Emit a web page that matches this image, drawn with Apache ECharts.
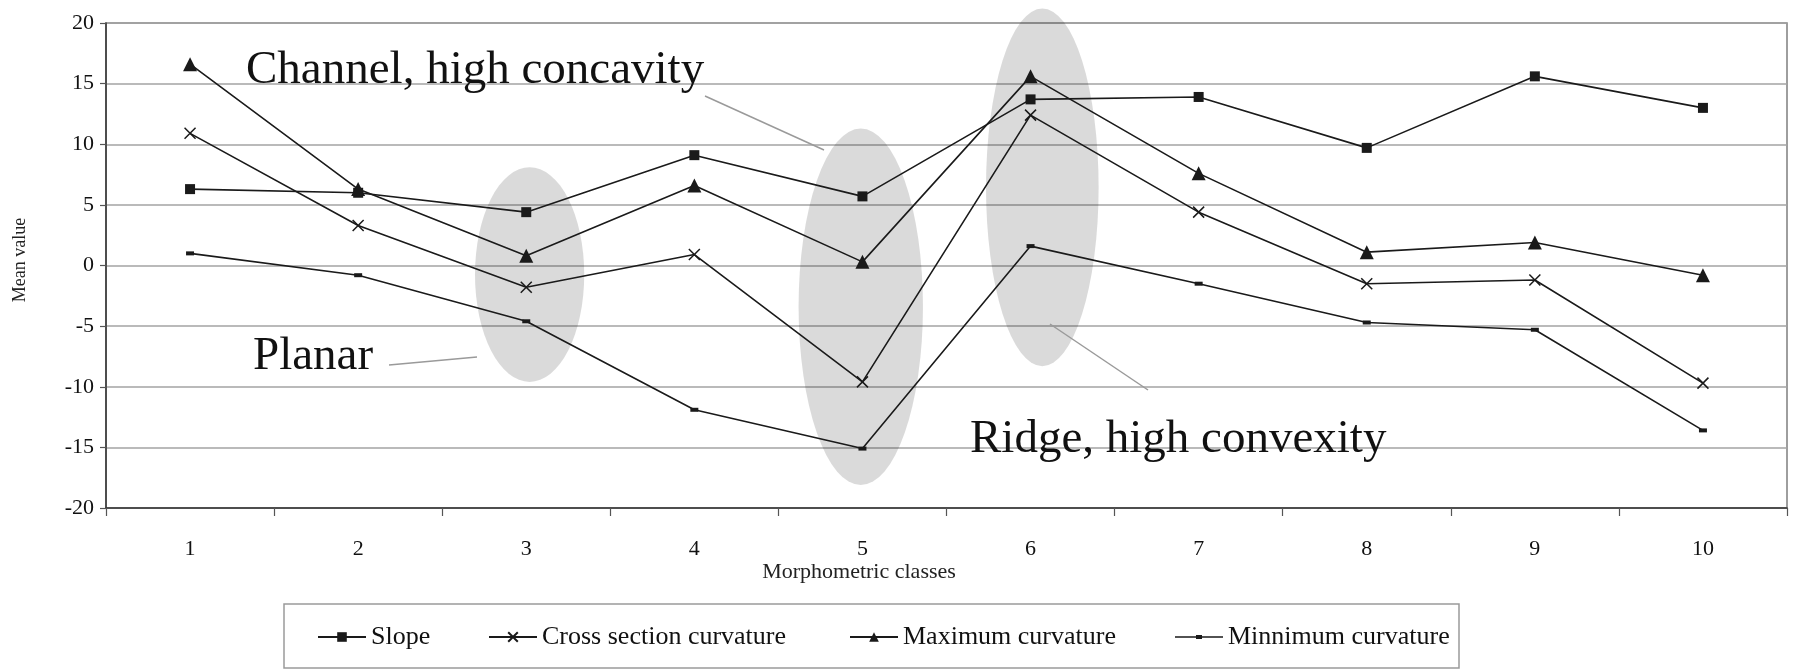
<!DOCTYPE html>
<html>
<head>
<meta charset="utf-8">
<script src="https://cdn.jsdelivr.net/npm/echarts@6/dist/echarts.min.js"></script>
<style>
  html, body { margin: 0; padding: 0; background: #ffffff; }
  #chart { width: 1794px; height: 670px; }
</style>
</head>
<body>
<div id="chart"></div>
<script>
// Morphometric classes on the x axis
const classes = ['1', '2', '3', '4', '5', '6', '7', '8', '9', '10'];

// Mean value of each terrain parameter per class
const slope        = [6.3, 6.0, 4.4, 9.1, 5.7, 13.7, 13.9, 9.7, 15.6, 13.0];
const crossSection = [10.9, 3.3, -1.8, 0.9, -9.6, 12.4, 4.4, -1.5, -1.2, -9.7];
const maxCurvature = [16.6, 6.3, 0.8, 6.6, 0.3, 15.6, 7.6, 1.1, 1.9, -0.8];
const minCurvature = [1.0, -0.8, -4.6, -11.9, -15.1, 1.6, -1.5, -4.7, -5.3, -13.6];

// Series names, in legend order
const seriesNames = ['Slope', 'Cross section curvature', 'Maximum curvature', 'Minnimum curvature'];

// Value-axis range and step
const yMin = -20, yMax = 20, yStep = 5;

// Highlighted class zones: [class index, upper value, lower value]
const zones = [
  [2, 8.1, -9.6],
  [4, 11.3, -18.1],
  [5, 21.2, -8.3]
];

// Shape of each zone: width as a share of one class band, sideways shift in bands
const zoneShape = [
  { w: 0.65, dx: 0.02 },
  { w: 0.74, dx: -0.01 },
  { w: 0.67, dx: 0.07 }
];

// Left edge of each legend entry inside the legend box
const legendLeft = [317, 488, 849, 1175];

const SERIF = '"Liberation Serif", "Times New Roman", serif';
const INK = '#1a1a1a';

// legend key for the minimum-curvature series: short line with a small dash in the middle
const DASH_KEY = 'path://M0,1.2L48,1.2L48,2.8L0,2.8Z M21,0L27,0L27,4L21,4Z';

const chart = echarts.init(document.getElementById('chart'), null, { renderer: 'canvas' });

function lineSeries(name, data, symbol, symbolSize, extraItem, extra) {
  return Object.assign({
    name: name,
    type: 'line',
    data: data,
    symbol: symbol,
    symbolSize: symbolSize,
    showAllSymbol: true,
    z: 5,
    lineStyle: { color: INK, width: 1.6 },
    itemStyle: Object.assign({ color: INK }, extraItem || {}),
    emphasis: { disabled: true }
  }, extra || {});
}

const legends = seriesNames.map(function (name, i) {
  const isDash = i === 3;
  return {
    left: legendLeft[i], top: 624,
    padding: 0,
    itemWidth: 48,
    itemHeight: isDash ? 4 : 12,
    selectedMode: false,
    textStyle: { fontFamily: SERIF, fontSize: 26, color: '#111111' },
    data: [isDash ? { name: name, icon: DASH_KEY } : name]
  };
});

chart.setOption({
  animation: false,
  backgroundColor: '#ffffff',
  grid: {
    left: 106, right: 7, top: 23, bottom: 162,
    show: true,
    borderColor: '#7f7f7f',
    borderWidth: 1.5
  },
  xAxis: {
    type: 'category',
    data: classes,
    boundaryGap: true,
    axisLine: { onZero: false, lineStyle: { color: '#333333', width: 1.5 } },
    axisTick: { show: true, length: 8, lineStyle: { color: '#555555', width: 1.2 } },
    axisLabel: { fontFamily: SERIF, fontSize: 22, color: '#111111', margin: 30 },
    splitLine: { show: false }
  },
  yAxis: {
    type: 'value',
    min: yMin, max: yMax, interval: yStep,
    axisLine: { show: true, lineStyle: { color: '#333333', width: 1.5 } },
    axisTick: { show: true, length: 6, lineStyle: { color: '#555555', width: 1.2 } },
    axisLabel: { fontFamily: SERIF, fontSize: 22, color: '#111111', margin: 12 },
    splitLine: { show: true, lineStyle: { color: '#a3a3a3', width: 1.5 } }
  },
  legend: legends,
  series: [
    {
      name: 'zones',
      type: 'custom',
      z: 1,
      silent: true,
      data: zones,
      encode: { x: 0, y: [1, 2] },
      renderItem: function (params, api) {
        const i = params.dataIndex;
        const band = api.size([1, 0])[0];
        const top = api.coord([api.value(0), api.value(1)]);
        const bot = api.coord([api.value(0), api.value(2)]);
        const s = zoneShape[i];
        return {
          type: 'circle',
          x: top[0] + band * s.dx,
          y: (top[1] + bot[1]) / 2,
          scaleX: band * s.w / 2,
          scaleY: (bot[1] - top[1]) / 2,
          shape: { cx: 0, cy: 0, r: 1 },
          style: { fill: 'rgba(0,0,0,0.145)' }
        };
      }
    },
    lineSeries(seriesNames[0], slope, 'rect', 10),
    lineSeries(seriesNames[1], crossSection,
      'path://M0,0L10,10M0,10L10,0', 11,
      { borderColor: INK, borderWidth: 1.5 }),
    lineSeries(seriesNames[2], maxCurvature, 'triangle', 14),
    lineSeries(seriesNames[3], minCurvature,
      'path://M0,0L8,0L8,4L0,4Z', 8, null, { symbolKeepAspect: true })
  ],
  graphic: [
    // legend frame
    {
      type: 'rect', z: 0,
      shape: { x: 284, y: 604, width: 1175, height: 64 },
      style: { fill: '#ffffff', stroke: '#9a9a9a', lineWidth: 1.5 }
    },
    // axis titles
    {
      type: 'text', x: 20, y: 260, rotation: Math.PI / 2,
      style: { text: 'Mean value', font: '18px ' + SERIF, fill: '#222222',
               textAlign: 'center', textVerticalAlign: 'middle' }
    },
    {
      type: 'text', x: 859, y: 572,
      style: { text: 'Morphometric classes', font: '22px ' + SERIF, fill: '#222222',
               textAlign: 'center', textVerticalAlign: 'middle' }
    },
    // landform annotations with leader lines
    {
      type: 'text', x: 246, y: 71, z: 10,
      style: { text: 'Channel, high concavity', font: '47px ' + SERIF, fill: '#111111',
               textAlign: 'left', textVerticalAlign: 'middle' }
    },
    {
      type: 'line', z: 10,
      shape: { x1: 705, y1: 96, x2: 824, y2: 150 },
      style: { stroke: '#9a9a9a', lineWidth: 1.5 }
    },
    {
      type: 'text', x: 253, y: 357, z: 10,
      style: { text: 'Planar', font: '47px ' + SERIF, fill: '#111111',
               textAlign: 'left', textVerticalAlign: 'middle' }
    },
    {
      type: 'line', z: 10,
      shape: { x1: 389, y1: 365, x2: 477, y2: 357 },
      style: { stroke: '#9a9a9a', lineWidth: 1.5 }
    },
    {
      type: 'text', x: 970, y: 440, z: 10,
      style: { text: 'Ridge, high convexity', font: '47px ' + SERIF, fill: '#111111',
               textAlign: 'left', textVerticalAlign: 'middle' }
    },
    {
      type: 'line', z: 10,
      shape: { x1: 1050, y1: 324, x2: 1148, y2: 390 },
      style: { stroke: '#9a9a9a', lineWidth: 1.5 }
    }
  ]
});
</script>
</body>
</html>
